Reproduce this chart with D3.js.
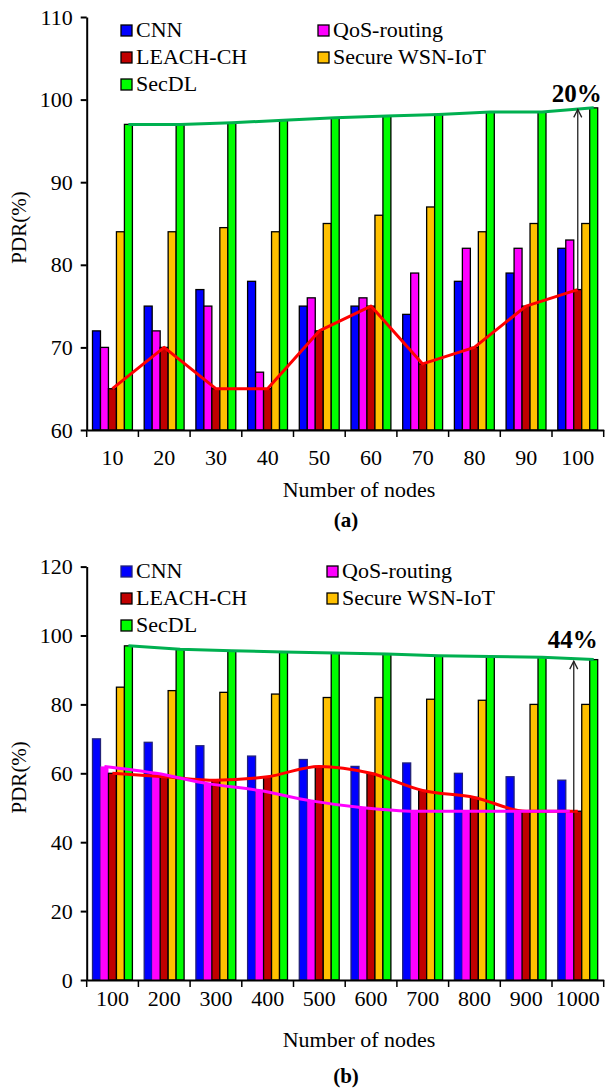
<!DOCTYPE html>
<html>
<head>
<meta charset="utf-8">
<script src="https://cdn.jsdelivr.net/npm/d3@7"></script>
<style>
  body { margin: 0; background: #fff; }
  svg { display: block; }
  svg text { font-family: "Liberation Serif", "Times New Roman", Tinos, "DejaVu Serif", serif !important; }
</style>
</head>
<body>
<svg id="chart" width="607" height="1089"></svg>
<script>
// series and colours (same for both panels)
var seriesNames = [ 'CNN', 'QoS-routing', 'LEACH-CH', 'Secure WSN-IoT', 'SecDL' ];
var seriesColors = [ '#0000ff', '#ff00ff', '#c00000', '#ffc000', '#00ff00' ];

// panel (a): PDR vs number of nodes, 10..100
var nodesA = [ '10', '20', '30', '40', '50', '60', '70', '80', '90', '100' ];
var cnnA = [ 72, 75, 77, 78, 75, 75, 74, 78, 79, 82 ];
var qosA = [ 70, 72, 75, 67, 76, 76, 79, 82, 82, 83 ];
var leachA = [ 65, 70, 65, 65, 72, 75, 68, 70, 75, 77 ];
var secureA = [ 84, 84, 84.5, 84, 85, 86, 87, 84, 85, 85 ];
var secdlA = [ 97, 97, 97.2, 97.5, 97.8, 98, 98.2, 98.5, 98.5, 99 ];
var yTicksA = [ 60, 70, 80, 90, 100, 110 ];

// panel (b): PDR vs number of nodes, 100..1000
var nodesB = [ '100', '200', '300', '400', '500', '600', '700', '800', '900', '1000' ];
var cnnB = [ 70, 69, 68, 65, 64, 62, 63, 60, 59, 58 ];
var qosB = [ 62, 60, 57, 55, 52, 50, 49, 49, 49, 49 ];
var leachB = [ 60, 59, 58, 59, 62, 60, 55, 53, 49, 49 ];
var secureB = [ 85, 84, 83.5, 83, 82, 82, 81.5, 81.2, 80, 80 ];
var secdlB = [ 97, 96, 95.6, 95.2, 94.9, 94.6, 94.1, 93.9, 93.7, 93 ];
var yTicksB = [ 0, 20, 40, 60, 80, 100, 120 ];

var svg = d3.select( '#chart' );

function drawPanel( cfg ) {
	var g = svg.append( 'g' );
	var values = [ cfg.cnn, cfg.qos, cfg.leach, cfg.secure, cfg.secdl ];

	var x = d3.scaleBand()
		.domain( cfg.cats )
		.range( [ 86.7, 603.7 ] )
		.padding( 0 );
	var bw = x.bandwidth();

	var x1 = d3.scaleBand()
		.domain( seriesNames )
		.range( [ 5.8, bw - 6 ] );

	var y = d3.scaleLinear()
		.domain( cfg.yDomain )
		.range( [ cfg.bottom, cfg.top ] );

	// bars
	seriesNames.forEach( function( name, si ) {
		g.append( 'g' )
			.selectAll( 'rect' )
			.data( values[ si ] )
			.enter()
			.append( 'rect' )
			.attr( 'x', function( d, i ) { return x( cfg.cats[ i ] ) + x1( name ); } )
			.attr( 'y', function( d ) { return y( d ); } )
			.attr( 'width', x1.bandwidth() )
			.attr( 'height', function( d ) { return cfg.bottom - y( d ); } )
			.attr( 'fill', seriesColors[ si ] )
			.attr( 'stroke', cfg.barStroke[ si ] )
			.attr( 'stroke-width', 1.3 );
	} );

	// trend lines over the bar tops
	cfg.lines.forEach( function( ln ) {
		var si = seriesNames.indexOf( ln.series );
		var line = d3.line()
			.x( function( d, i ) { return x( cfg.cats[ i ] ) + x1( ln.series ) + x1.bandwidth() / 2; } )
			.y( function( d ) { return y( d ); } )
			.curve( ln.curve );
		g.append( 'path' )
			.datum( values[ si ] )
			.attr( 'fill', 'none' )
			.attr( 'stroke', ln.color )
			.attr( 'stroke-width', 3 )
			.attr( 'stroke-linejoin', 'round' )
			.attr( 'd', line );
	} );

	// y axis
	var yAxis = g.append( 'g' )
		.attr( 'transform', 'translate(' + x.range()[ 0 ] + ',0)' )
		.call( d3.axisLeft( y ).tickValues( cfg.yTicks ).tickSize( 6 ).tickSizeOuter( 0 ).tickPadding( 8 ) );
	yAxis.select( '.domain' ).attr( 'stroke-width', 2 );
	yAxis.selectAll( '.tick line' ).attr( 'stroke-width', 2 );
	yAxis.selectAll( 'text' )
		.attr( 'font-size', 22 )
		.attr( 'fill', '#000' );

	// x axis, ticks sit between the groups
	var xAxis = g.append( 'g' )
		.attr( 'transform', 'translate(0,' + cfg.bottom + ')' )
		.call( d3.axisBottom( x ).tickSize( 0 ).tickSizeOuter( 0 ).tickPadding( cfg.xPad ) );
	xAxis.select( '.domain' ).attr( 'stroke-width', 2 );
	xAxis.selectAll( 'text' )
		.attr( 'font-size', 22 )
		.attr( 'fill', '#000' );
	xAxis.selectAll( '.sep' )
		.data( cfg.cats.map( function( c ) { return x( c ); } ).concat( [ x.range()[ 1 ] ] ) )
		.enter()
		.append( 'line' )
		.attr( 'x1', function( d ) { return d; } )
		.attr( 'x2', function( d ) { return d; } )
		.attr( 'y1', 0 )
		.attr( 'y2', 7 )
		.attr( 'stroke', '#000' )
		.attr( 'stroke-width', 1.5 );

	// axis titles
	g.append( 'text' )
		.attr( 'transform', 'translate(' + 26 + ',' + ( ( cfg.top + cfg.bottom ) / 2 + 4 ) + ') rotate(-90)' )
		.attr( 'text-anchor', 'middle' )
		.attr( 'font-size', 21 )
		.text( 'PDR(%)' );
	g.append( 'text' )
		.attr( 'x', 359 )
		.attr( 'y', cfg.titleY )
		.attr( 'text-anchor', 'middle' )
		.attr( 'font-size', 22 )
		.text( 'Number of nodes' );
	g.append( 'text' )
		.attr( 'x', 346 )
		.attr( 'y', cfg.captionY )
		.attr( 'text-anchor', 'middle' )
		.attr( 'font-size', 21 )
		.attr( 'font-weight', 'bold' )
		.text( cfg.caption );

	// legend, two columns
	var legend = g.append( 'g' );
	seriesNames.forEach( function( name, si ) {
		var col = si % 2;
		var row = Math.floor( si / 2 );
		var lx = col === 0 ? 121 : cfg.legendCol2;
		var ly = cfg.legendY + row * 27;
		legend.append( 'rect' )
			.attr( 'x', lx )
			.attr( 'y', ly - 12 )
			.attr( 'width', 11 )
			.attr( 'height', 11 )
			.attr( 'fill', seriesColors[ si ] )
			.attr( 'stroke', cfg.legendStroke[ si ] )
			.attr( 'stroke-width', 1.3 );
		legend.append( 'text' )
			.attr( 'x', lx + 15 )
			.attr( 'y', ly )
			.attr( 'font-size', 22 )
			.text( name );
	} );

	// improvement arrow on the last group
	var last = cfg.cats.length - 1;
	var ax = x( cfg.cats[ last ] ) + x1( 'LEACH-CH' ) + cfg.arrowShift;
	var yLow = y( cfg.arrowFrom[ last ] );
	var yHigh = y( cfg.secdl[ last ] ) + 1.5;
	g.append( 'line' )
		.attr( 'x1', ax )
		.attr( 'x2', ax )
		.attr( 'y1', yLow )
		.attr( 'y2', yHigh )
		.attr( 'stroke', '#222' )
		.attr( 'stroke-width', 1.3 );
	g.append( 'path' )
		.attr( 'd', 'M' + ( ax - 4 ) + ',' + ( yHigh + 8 ) + 'L' + ax + ',' + yHigh + 'L' + ( ax + 4 ) + ',' + ( yHigh + 8 ) )
		.attr( 'fill', 'none' )
		.attr( 'stroke', '#222' )
		.attr( 'stroke-width', 1.3 );
	g.append( 'text' )
		.attr( 'x', ax - 1 )
		.attr( 'y', yHigh - cfg.pctLift )
		.attr( 'text-anchor', 'middle' )
		.attr( 'font-size', 25 )
		.attr( 'font-weight', 'bold' )
		.text( cfg.pct );
}

drawPanel( {
	cats: nodesA,
	cnn: cnnA, qos: qosA, leach: leachA, secure: secureA, secdl: secdlA,
	yDomain: [ 60, 110 ], yTicks: yTicksA,
	top: 17, bottom: 430,
	xPad: 19, titleY: 497, captionY: 527, caption: '(a)',
	barStroke: [ '#000', '#000', '#000', '#000', '#000' ],
	legendStroke: [ '#000', '#000', '#000', '#000', '#000' ],
	legendY: 37, legendCol2: 318,
	lines: [
		{ series: 'LEACH-CH', color: '#ff0000', curve: d3.curveLinear },
		{ series: 'SecDL', color: '#00b050', curve: d3.curveLinear }
	],
	arrowFrom: leachA, arrowShift: 4, pct: '20%', pctLift: 7
} );

drawPanel( {
	cats: nodesB,
	cnn: cnnB, qos: qosB, leach: leachB, secure: secureB, secdl: secdlB,
	yDomain: [ 0, 120 ], yTicks: yTicksB,
	top: 566.6, bottom: 980,
	xPad: 10, titleY: 1047, captionY: 1083, caption: '(b)',
	barStroke: [ '#22227a', 'none', '#000', '#000', '#000' ],
	legendStroke: [ '#22227a', '#000', '#000', '#000', '#000' ],
	legendY: 578, legendCol2: 327,
	lines: [
		{ series: 'LEACH-CH', color: '#ff0000', curve: d3.curveMonotoneX },
		{ series: 'QoS-routing', color: '#ff00ff', curve: d3.curveMonotoneX },
		{ series: 'SecDL', color: '#00b050', curve: d3.curveLinear }
	],
	arrowFrom: leachB, arrowShift: 0, pct: '44%', pctLift: 13
} );
</script>
</body>
</html>
